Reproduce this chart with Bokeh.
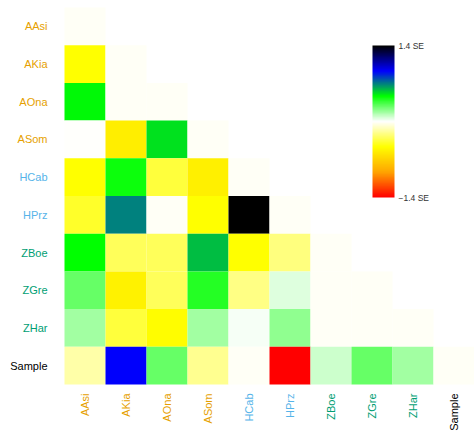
import numpy as np
from bokeh.plotting import figure
from bokeh.models import (ColumnDataSource, LinearColorMapper, ColorBar,
                          FixedTicker, Range1d)
from bokeh.core.properties import value
from bokeh.embed import file_html
from bokeh.resources import INLINE

# Populations, in matrix order (top row / left column first)
pops = ["AAsi", "AKia", "AOna", "ASom", "HCab", "HPrz",
        "ZBoe", "ZGre", "ZHar", "Sample"]
pop_colors = ["#E69F00", "#E69F00", "#E69F00", "#E69F00",
              "#56B4E9", "#56B4E9",
              "#009E73", "#009E73", "#009E73", "#000000"]

# Lower-triangle statistics (in SE units), one list per row
row_AAsi = [-0.02]
row_AKia = [-0.46, -0.02]
row_AOna = [0.48, -0.02, -0.02]
row_ASom = [-0.01, -0.55, 0.52, -0.02]
row_HCab = [-0.46, 0.44, -0.36, -0.54, -0.02]
row_HPrz = [-0.39, 0.70, -0.02, -0.47, 1.40, -0.02]
row_ZBoe = [0.46, -0.30, -0.30, 0.58, -0.47, -0.24, -0.02]
row_ZGre = [0.28, -0.53, -0.30, 0.40, -0.22, 0.06, -0.02, -0.02]
row_ZHar = [0.17, -0.35, -0.48, 0.17, 0.02, 0.20, -0.02, -0.02, -0.02]
row_Sample = [-0.16, 0.93, 0.28, -0.20, -0.02, -1.40, 0.09, 0.28, 0.17, -0.02]
rows = [row_AAsi, row_AKia, row_AOna, row_ASom, row_HCab, row_HPrz,
        row_ZBoe, row_ZGre, row_ZHar, row_Sample]

scale_min, scale_max = -1.4, 1.4
scale_labels = {-1.4: "\u22121.4 SE", 1.4: "1.4 SE"}

# Continuous palette: red - orange - yellow - white - green - blue - black
stops = ["#FF0000", "#FFA500", "#FFFF00", "#FFFFFF", "#00FF00", "#0000FF", "#000000"]
stop_rgb = np.array([[int(c[i:i + 2], 16) for i in (1, 3, 5)] for c in stops], float)
pos = np.linspace(0, 1, len(stops))
tt = np.linspace(0, 1, 256)
rgb = np.stack([np.interp(tt, pos, stop_rgb[:, k]) for k in range(3)], axis=1)
palette = ["#%02X%02X%02X" % tuple(int(round(v)) for v in c) for c in rgb]
mapper = LinearColorMapper(palette=palette, low=scale_min, high=scale_max)

n = len(pops)
xs, ys, vals = [], [], []
for i, r in enumerate(rows):
    for j, v in enumerate(r):
        xs.append(j + 0.5)
        ys.append(n - i - 0.5)
        vals.append(v)
cells = ColumnDataSource(dict(x=xs, y=ys, v=vals))

W, H = 474, 439
left_px, top_px, bottom_px = 64, 7, 55
px_x = (W - left_px) / n
px_y = (H - top_px - bottom_px) / n

p = figure(width=W, height=H, output_backend="svg", toolbar_location=None,
           x_range=Range1d(-left_px / px_x, n),
           y_range=Range1d(-bottom_px / px_y, n + top_px / px_y),
           min_border=0, min_border_left=0, min_border_right=0,
           min_border_top=0, min_border_bottom=0)
p.axis.visible = False
p.grid.visible = False
p.outline_line_color = None
p.background_fill_color = "white"
p.border_fill_color = "white"

p.rect(x="x", y="y", width=1, height=1, source=cells,
       fill_color={"field": "v", "transform": mapper}, line_color=None)

# Row labels (left) and column labels (bottom, rotated)
lab = ColumnDataSource(dict(
    rx=[0] * n, ry=[n - i - 0.5 for i in range(n)],
    cx=[i + 0.5 for i in range(n)], cy=[0] * n,
    t=pops, c=pop_colors))
p.text(x="rx", y="ry", text="t", source=lab, text_color="c",
       text_align="right", text_baseline="middle", x_offset=-17,
       text_font=value("Liberation Sans"), text_font_size="11px")
p.text(x="cx", y="cy", text="t", source=lab, text_color="c",
       text_align="right", text_baseline="middle", y_offset=9,
       angle=np.pi / 2,
       text_font=value("Liberation Sans"), text_font_size="11px")

cb = ColorBar(color_mapper=mapper, width=22, height=152,
              location=(372, H - 197), padding=0, margin=0,
              ticker=FixedTicker(ticks=[scale_min, scale_max]),
              major_label_overrides=scale_labels,
              major_tick_line_color=None, minor_tick_line_color=None,
              bar_line_color=None, border_line_color=None,
              background_fill_color=None, label_standoff=4,
              major_label_text_font="Liberation Sans",
              major_label_text_font_size="8.5px",
              major_label_text_color="#333333")
p.add_layout(cb)

open("out.html", "w").write(file_html(p, INLINE))
